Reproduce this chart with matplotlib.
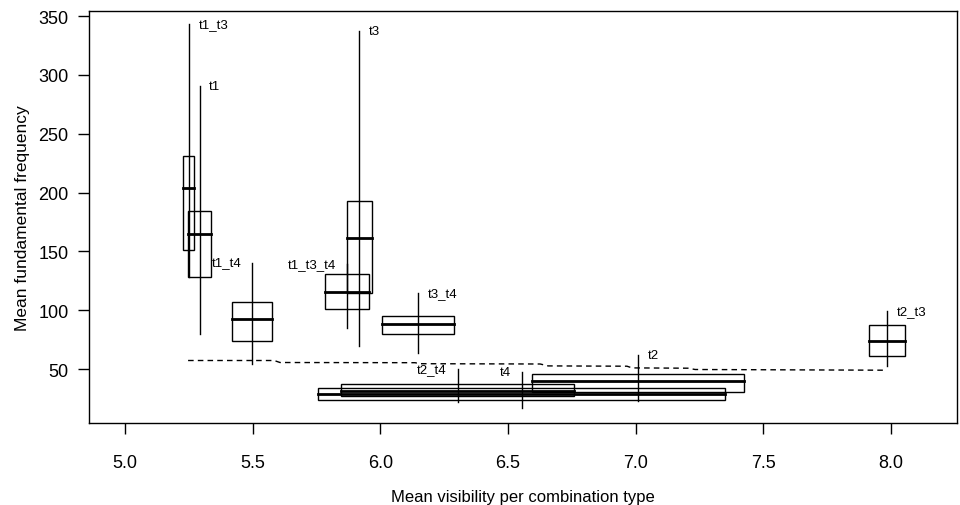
import matplotlib
matplotlib.use('Agg')
import matplotlib.pyplot as plt
from matplotlib.patches import Rectangle

plt.rcParams['font.family'] = ['Liberation Sans', 'DejaVu Sans']

# one entry per combination type
labels = ['t1_t3', 't1', 't1_t4', 't1_t3_t4', 't3', 't3_t4',
          't2_t4', 't4', 't2', 't2_t3']
x_center = [5.250, 5.292, 5.498, 5.870, 5.918, 6.149, 6.303, 6.554, 7.011, 7.983]
x_low = [5.228, 5.248, 5.419, 5.782, 5.868, 6.008, 5.846, 5.757, 6.595, 7.913]
x_high = [5.271, 5.336, 5.577, 5.957, 5.969, 6.290, 6.760, 7.351, 7.426, 8.053]
y_min = [128, 79.7, 54, 85.4, 70, 63.6, 22.2, 16.9, 23.3, 52.3]
y_q1 = [151, 128, 74, 101, 115, 80, 27.1, 24, 31, 60.8]
y_med = [204, 165, 92.5, 116, 161.5, 88, 31.3, 29.3, 40.4, 74]
y_q3 = [231, 184, 107.2, 130.7, 193, 95, 37.3, 34.1, 46, 87.6]
y_max = [343, 290.7, 140.6, 139.7, 337, 115, 50, 47.7, 62, 99.5]
label_side = ['right', 'right', 'left', 'left', 'right', 'right',
              'left', 'left', 'right', 'right']

# dashed reference line
ref_x = [5.247, 5.584, 5.607, 6.136, 6.155, 6.626, 6.657, 6.966, 6.986,
         7.205, 7.233, 7.973]
ref_y = [57.39, 57.39, 55.69, 55.52, 54.67, 54.42, 52.80, 52.55, 51.10,
         50.85, 49.75, 49.15]

fig = plt.figure(figsize=(9.6, 5.06), dpi=100)
ax = fig.add_axes([0.093, 0.163, 0.904, 0.813])

for i in range(len(labels)):
    ax.plot([x_center[i], x_center[i]], [y_min[i], y_max[i]],
            color='black', linewidth=1.0)
    ax.add_patch(Rectangle((x_low[i], y_q1[i]), x_high[i] - x_low[i],
                           y_q3[i] - y_q1[i], fill=False,
                           edgecolor='black', linewidth=1.0))
    ax.plot([x_low[i], x_high[i]], [y_med[i], y_med[i]],
            color='black', linewidth=2.0)
    if label_side[i] == 'right':
        ax.annotate(labels[i], (x_center[i], y_max[i]), xytext=(7, 0),
                    textcoords='offset points', ha='left', va='center',
                    fontsize=9.5)
    else:
        ax.annotate(labels[i], (x_center[i], y_max[i]), xytext=(-8, 0),
                    textcoords='offset points', ha='right', va='center',
                    fontsize=9.5)

ax.plot(ref_x, ref_y, color='black', linestyle=(0, (4, 3)), linewidth=1.0)

ax.set_xlim(4.860, 8.259)
ax.set_ylim(4.7, 354.2)
ax.set_xticks([5.0, 5.5, 6.0, 6.5, 7.0, 7.5, 8.0])
ax.set_xticklabels(['5.0', '5.5', '6.0', '6.5', '7.0', '7.5', '8.0'])
ax.set_yticks([50, 100, 150, 200, 250, 300, 350])
ax.tick_params(axis='x', length=8, width=1, pad=15, labelsize=13)
ax.tick_params(axis='y', length=8, width=1, pad=7, labelsize=13)
for s in ax.spines.values():
    s.set_linewidth(1.0)
ax.set_xlabel('Mean visibility per combination type', fontsize=12, labelpad=12.5)
ax.set_ylabel('Mean fundamental frequency', fontsize=12.5, labelpad=6)

fig.savefig('out.png', dpi=100)
